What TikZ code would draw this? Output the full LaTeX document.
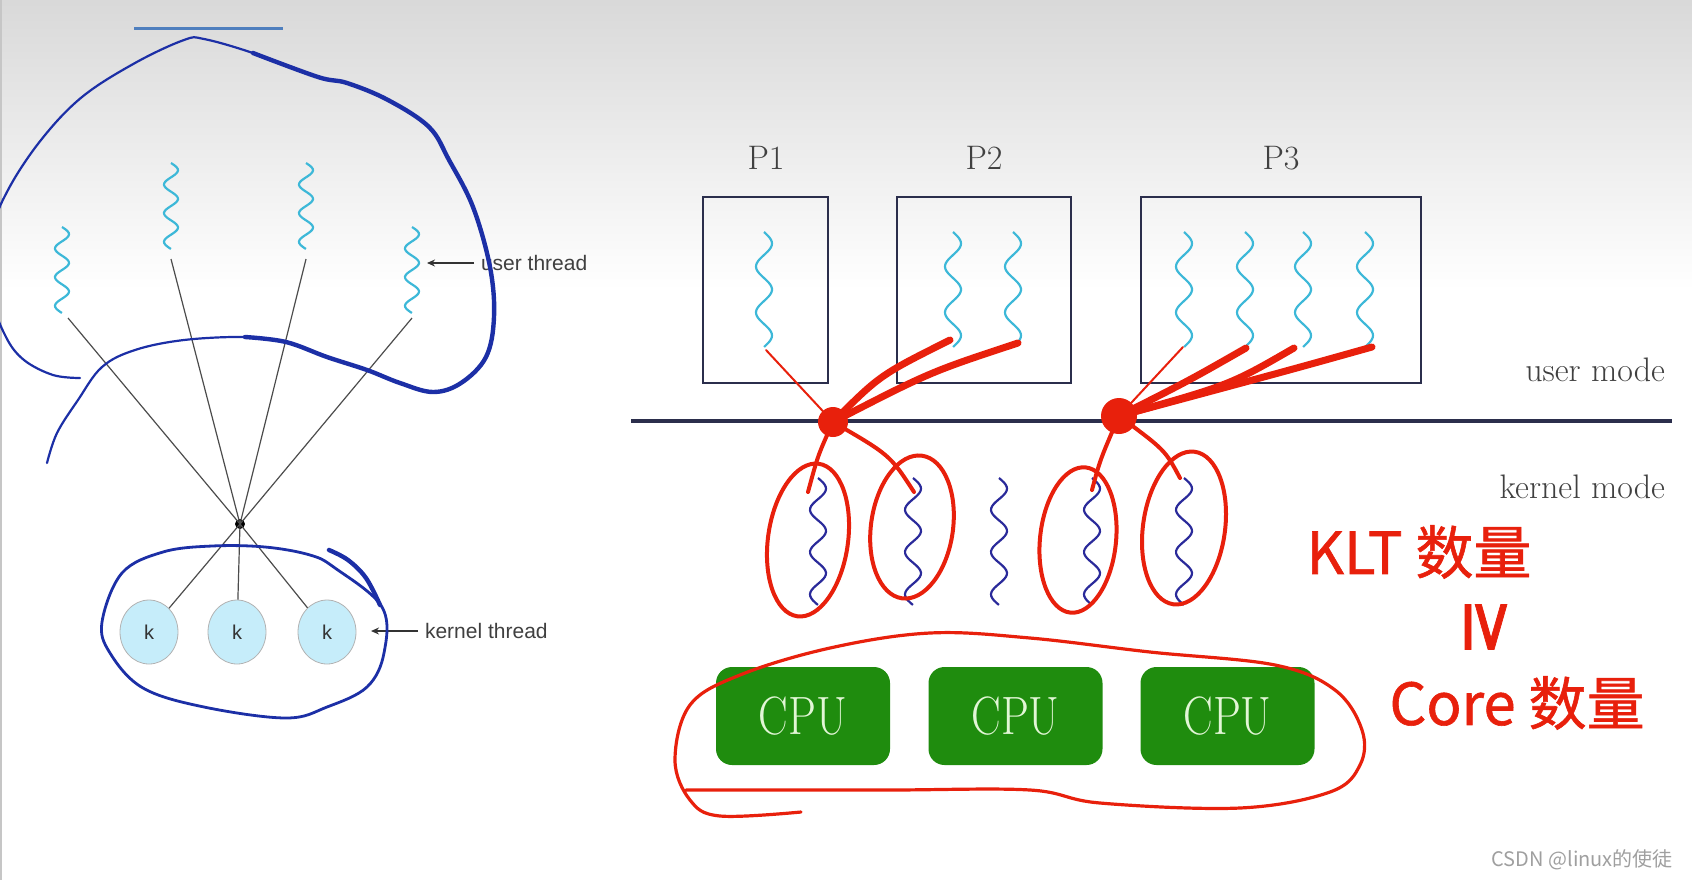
\documentclass[tikz,border=0pt]{standalone}
\usepackage{fontspec}
\usepackage{graphicx}
\usetikzlibrary{shapes.geometric,arrows.meta}
\newfontfamily\threadfont{Liberation Sans}
\newfontfamily\handfont[FakeBold=1]{Noto Sans CJK SC}
\newfontfamily\markfont{Noto Sans CJK SC}
\newfontfamily\geqfont[FakeBold=1]{DejaVu Sans}
\definecolor{cloudblue}{HTML}{1C2FA6}
\definecolor{topline}{HTML}{4F7FBE}
\definecolor{ucyan}{HTML}{3DB8D8}
\definecolor{knavy}{HTML}{2A2A9A}
\definecolor{kfill}{HTML}{C6EDFA}
\definecolor{barcol}{HTML}{2B2E4C}
\definecolor{cpugreen}{HTML}{1F8C0E}
\definecolor{cputext}{HTML}{E2F6D6}
\definecolor{pen}{HTML}{E8200C}

\begin{document}
\begin{tikzpicture}[x=0.5pt, y=-0.5pt,
    uthr/.style={ucyan, line width=1.1pt},
    kthr/.style={knavy, line width=1.1pt},
    spoke/.style={black!70, line width=0.6pt},
    hub/.style={circle, fill=black, inner sep=0pt, minimum size=5pt},
    knode/.style={ellipse, draw=gray!60, fill=kfill, inner sep=0pt,
        minimum width=29pt, minimum height=32pt,
        font=\threadfont\fontsize{10}{12}\selectfont, text=black!80},
    lefttext/.style={font=\threadfont\fontsize{10.5}{12}\selectfont, text=black!75},
    pointer/.style={-{Stealth[length=4pt,width=3.5pt]}, black!80, line width=0.7pt},
    cloud/.style={cloudblue, line width=1.1pt, line cap=round},
    cloudthick/.style={cloudblue, line width=2.2pt, line cap=round},
    pbox/.style={draw=barcol, line width=1.3pt, inner sep=0pt},
    plabel/.style={font=\fontsize{17}{20}\selectfont, text=black!75},
    modetext/.style={font=\fontsize{17}{20}\selectfont, text=black!75},
    cpu/.style={fill=cpugreen, rounded corners=8pt, minimum width=87pt,
        minimum height=49pt, inner sep=0pt, text=cputext,
        font=\fontsize{27}{30}\selectfont},
    reddot/.style={circle, fill=pen, inner sep=0pt},
    penthin/.style={pen, line width=1pt, line cap=round},
    penthick/.style={pen, line width=3.5pt, line cap=round},
    penmid/.style={pen, line width=2pt, line cap=round},
    penloop/.style={pen, line width=1.6pt, line cap=round},
    hand/.style={text=pen, font=\handfont\fontsize{29}{32}\selectfont}
]
\useasboundingbox (0,0) rectangle (1692,880);
\shade[top color=gray!30, bottom color=white] (0,0) rectangle (1692,290);
\draw[gray!45, line width=1pt] (1,0) -- (1,880);

\draw[topline, line width=1.5pt] (134,28) -- (283,28);

\foreach \tx/\ty in {62/227, 171/163, 306/163, 412/227} {
    \draw[uthr] plot[domain=0:1, samples=60, smooth] ({\tx+7*sin(\x*1080)}, {\ty+86*\x});
}
\coordinate (ut1) at (68,318);
\coordinate (ut2) at (171,259);
\coordinate (ut3) at (306,259);
\coordinate (ut4) at (412,318);

\node[hub] (hub) at (240,524) {};
\foreach \u in {ut1, ut2, ut3, ut4} {
    \draw[spoke] (hub.center) -- (\u);
}
\node[knode] (k1) at (149,632) {k};
\node[knode] (k2) at (237,632) {k};
\node[knode] (k3) at (327,632) {k};
\foreach \k in {k1, k2, k3} {
    \draw[spoke] (hub.center) -- (\k);
}

\node[lefttext, anchor=west] (utlab) at (474,263) {user thread};
\coordinate (utend) at (427,263);
\draw[pointer] (utlab) -- (utend);
\node[lefttext, anchor=west] (ktlab) at (418,631) {kernel thread};
\coordinate (ktend) at (371,631);
\draw[pointer] (ktlab) -- (ktend);

\draw[cloud] plot[smooth, tension=0.6] coordinates {(80,378) (53,375) (24,360) (6,337) (-6,300)
    (-6,230) (8,190) (41,140) (82,97) (135,63) (184,40) (204,39) (253,53) (318,77)};
\draw[cloudthick] plot[smooth, tension=0.6] coordinates {(253,53) (318,77) (347,83) (388,100)
    (429,127) (449,160) (473,207) (490,267) (494,317) (486,357) (461,383) (433,392) (400,383)
    (367,370) (327,357) (286,342) (245,337)};
\draw[cloud] plot[smooth, tension=0.6] coordinates {(286,342) (245,337) (184,340) (135,350)
    (102,367) (78,400) (57,433) (47,463)};

\draw[cloud, line width=1.4pt] plot[smooth cycle, tension=0.6] coordinates {(102,622) (122,573)
    (163,552) (212,546) (265,547) (310,555) (335,568) (382,607) (384,653) (367,687) (327,707)
    (286,718) (204,707) (143,688) (110,653)};
\draw[cloudthick] plot[smooth, tension=0.6] coordinates {(329,550) (348,560) (366,578) (380,605)};

\node[pbox, minimum width=62.5pt, minimum height=93pt] (pb1) at (765.5,290) {};
\node[pbox, minimum width=87pt, minimum height=93pt] (pb2) at (984,290) {};
\node[pbox, minimum width=140pt, minimum height=93pt] (pb3) at (1281,290) {};
\node[plabel] (pl1) at (766,158) {P1};
\node[plabel] (pl2) at (984,158) {P2};
\node[plabel] (pl3) at (1281,158) {P3};

\foreach \tx in {764, 953, 1013, 1184, 1245, 1303, 1365} {
    \draw[uthr] plot[domain=0:1, samples=60, smooth] ({\tx+8*sin(\x*900)}, {232+115*\x});
}

\coordinate (barl) at (631,421);
\coordinate (barr) at (1672,421);
\draw[barcol, line width=2pt] (barl) -- (barr);
\node[modetext, anchor=east] (umode) at (1672,370) {user mode};
\node[modetext, anchor=east] (kmode) at (1672,487) {kernel mode};

\foreach \tx in {818, 913, 999, 1092, 1184} {
    \draw[kthr] plot[domain=0:1, samples=60, smooth] ({\tx+8*sin(\x*1080)}, {478+127*\x});
}

\node[cpu] (cpu1) at (803,716) {\scalebox{0.82}[1]{CPU}};
\node[cpu] (cpu2) at (1015.5,716) {\scalebox{0.82}[1]{CPU}};
\node[cpu] (cpu3) at (1227.5,716) {\scalebox{0.82}[1]{CPU}};

\coordinate (p1a) at (766,350);
\coordinate (p2a) at (950,340);
\coordinate (p2b) at (1018,343);
\coordinate (p3a) at (1183,347);
\coordinate (p3b) at (1246,348);
\coordinate (p3c) at (1294,348);
\coordinate (p3d) at (1372,347);
\coordinate (ke1) at (808,492);
\coordinate (ke2) at (914,492);
\coordinate (ke3) at (1092,490);
\coordinate (ke4) at (1180,478);

\node[reddot, minimum size=15pt] (rd1) at (833,422) {};
\node[reddot, minimum size=18pt] (rd2) at (1119,416) {};

\draw[penthin] (rd1.center) -- (p1a);
\draw[penthick] (rd1.center) .. controls (880,375) .. (p2a);
\draw[penthick] (rd1.center) .. controls (930,372) .. (p2b);
\draw[penmid] (rd1.center) .. controls (818,455) .. (ke1);
\draw[penmid] (rd1.center) .. controls (890,455) .. (ke2);

\draw[penthin] (rd2.center) -- (p3a);
\draw[penthick] (rd2.center) .. controls (1190,380) .. (p3b);
\draw[penthick] (rd2.center) .. controls (1230,385) .. (p3c);
\draw[penthick] (rd2.center) .. controls (1290,370) .. (p3d);
\draw[penmid] (rd2.center) .. controls (1100,460) .. (ke3);
\draw[penmid] (rd2.center) .. controls (1165,450) .. (ke4);

\draw[penmid, rotate around={-8:(808,540)}] (808,540) ellipse (40 and 77);
\draw[penmid, rotate around={-8:(912,527)}] (912,527) ellipse (41 and 72);
\draw[penmid, rotate around={-6:(1078,540)}] (1078,540) ellipse (38 and 73);
\draw[penmid, rotate around={-8:(1184,528)}] (1184,528) ellipse (41 and 77);

\draw[penloop] plot[smooth, tension=0.6] coordinates {(801,812) (720,816) (690,800) (675,760)
    (690,705) (740,675) (830,648) (930,633) (1030,638) (1150,652) (1275,665) (1335,690)
    (1362,730) (1360,765) (1330,792) (1240,808) (1100,803) (1030,790) (890,790) (760,790)
    (686,790)};

\node[hand] (klt) at (1419,552) {KLT 数量};
\node[text=pen, rotate=-90, font=\geqfont\fontsize{36}{40}\selectfont] (geq) at (1486,627) {≥};
\node[hand] (core) at (1517,703) {Core 数量};

\node[anchor=east, text=gray!75, font=\markfont\fontsize{10}{12}\selectfont] (mark) at (1680,860)
    {CSDN @linux的使徒};
\end{tikzpicture}
\end{document}
